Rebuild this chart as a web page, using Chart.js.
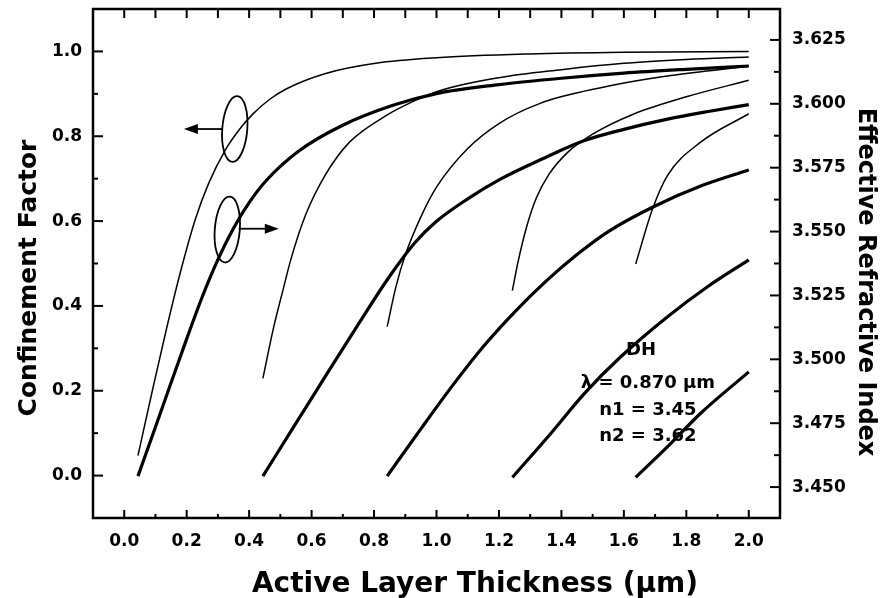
<!DOCTYPE html>
<html>
<head>
<meta charset="utf-8">
<script src="https://cdn.jsdelivr.net/npm/chart.js@4.4.1/dist/chart.umd.min.js"></script>
<style>
  html, body { margin: 0; padding: 0; background: #fff; }
  #wrap { width: 888px; height: 598px; }
</style>
</head>
<body>
<div id="wrap"><canvas id="chart" width="888" height="598"></canvas></div>
<script>
// ---- axis ticks ----
const xTicks = [0.0, 0.2, 0.4, 0.6, 0.8, 1.0, 1.2, 1.4, 1.6, 1.8, 2.0];
const cfTicks = [0.0, 0.2, 0.4, 0.6, 0.8, 1.0];
const neffTicks = [3.450, 3.475, 3.500, 3.525, 3.550, 3.575, 3.600, 3.625];

// ---- confinement factor (thin lines, left axis) ----
const cf0x = [0.044, 0.090, 0.135, 0.180, 0.228, 0.271, 0.324, 0.370, 0.410, 0.464, 0.520, 0.645, 0.805, 1.000, 1.300, 1.600, 2.000];
const cf0y = [0.047, 0.200, 0.345, 0.480, 0.605, 0.690, 0.768, 0.817, 0.851, 0.886, 0.912, 0.948, 0.972, 0.985, 0.994, 0.998, 1.000];
const cf1x = [0.444, 0.479, 0.511, 0.533, 0.580, 0.645, 0.720, 0.837, 0.922, 1.000, 1.200, 1.400, 1.600, 1.800, 2.000];
const cf1y = [0.229, 0.351, 0.445, 0.508, 0.613, 0.710, 0.785, 0.848, 0.881, 0.905, 0.938, 0.957, 0.972, 0.981, 0.987];
const cf2x = [0.842, 0.870, 0.900, 0.950, 1.000, 1.100, 1.200, 1.330, 1.530, 1.750, 2.000];
const cf2y = [0.351, 0.445, 0.520, 0.610, 0.680, 0.771, 0.830, 0.877, 0.915, 0.943, 0.965];
const cf3x = [1.243, 1.260, 1.290, 1.320, 1.360, 1.420, 1.500, 1.630, 1.800, 2.000];
const cf3y = [0.436, 0.500, 0.590, 0.655, 0.710, 0.762, 0.805, 0.852, 0.893, 0.932];
const cf4x = [1.638, 1.692, 1.740, 1.846, 2.000];
const cf4y = [0.499, 0.629, 0.708, 0.786, 0.853];

// ---- effective refractive index (thick lines, right axis) ----
const ne0x = [0.044, 0.100, 0.150, 0.200, 0.250, 0.300, 0.350, 0.400, 0.452, 0.559, 0.698, 0.858, 1.000, 1.200, 1.400, 1.600, 1.800, 2.000];
const ne0y = [3.4543, 3.4735, 3.4908, 3.5080, 3.5245, 3.5390, 3.5513, 3.5613, 3.5696, 3.5815, 3.5915, 3.5993, 3.6040, 3.6075, 3.6100, 3.6120, 3.6135, 3.6148];
const ne1x = [0.444, 0.550, 0.650, 0.750, 0.850, 0.930, 1.000, 1.100, 1.206, 1.340, 1.474, 1.600, 1.740, 1.870, 2.000];
const ne1y = [3.4543, 3.4750, 3.4945, 3.5138, 3.5325, 3.5455, 3.5540, 3.5628, 3.5706, 3.5785, 3.5856, 3.5900, 3.5940, 3.5970, 3.5997];
const ne2x = [0.842, 0.950, 1.050, 1.150, 1.250, 1.350, 1.450, 1.550, 1.700, 1.850, 2.000];
const ne2y = [3.4543, 3.4728, 3.4895, 3.5050, 3.5185, 3.5305, 3.5410, 3.5500, 3.5600, 3.5680, 3.5741];
const ne3x = [1.243, 1.366, 1.474, 1.590, 1.740, 1.868, 2.000];
const ne3y = [3.4538, 3.4710, 3.4867, 3.5010, 3.5167, 3.5284, 3.5389];
const ne4x = [1.638, 1.740, 1.846, 2.000];
const ne4y = [3.4538, 3.4658, 3.4789, 3.4951];

const FONT = '"DejaVu Sans", "Liberation Sans", sans-serif';

function pts(xs, ys) {
    return xs.map((x, i) => ({ x, y: ys[i] }));
}

function thin(xs, ys) {
    return { data: pts(xs, ys), yAxisID: "y", borderColor: "#000", borderWidth: 1.5,
             pointRadius: 0, cubicInterpolationMode: "monotone", fill: false };
}

function thick(xs, ys) {
    return { data: pts(xs, ys), yAxisID: "y2", borderColor: "#000", borderWidth: 3.2,
             pointRadius: 0, cubicInterpolationMode: "monotone", fill: false };
}

// frame, inward ticks, axis titles and the note / ellipse annotations
const framePlugin = {
    id: "frame",
    afterDatasetsDraw(chart) {
        const { ctx, chartArea: a, scales } = chart;
        const sx = scales.x, sy = scales.y, sy2 = scales.y2;
        ctx.save();
        ctx.strokeStyle = "#000";
        ctx.fillStyle = "#000";
        ctx.lineWidth = 2.5;
        ctx.strokeRect(a.left, a.top, a.right - a.left, a.bottom - a.top);

        ctx.lineWidth = 2;
        const line = (x1, y1, x2, y2) => {
            ctx.beginPath(); ctx.moveTo(x1, y1); ctx.lineTo(x2, y2); ctx.stroke();
        };

        // x ticks, bottom and top
        xTicks.forEach((v, i) => {
            const px = sx.getPixelForValue(v);
            line(px, a.bottom, px, a.bottom - 8);
            line(px, a.top, px, a.top + 9);
            if (i < xTicks.length - 1) {
                const mx = sx.getPixelForValue(v + 0.1);
                line(mx, a.bottom, mx, a.bottom - 4);
                line(mx, a.top, mx, a.top + 9);
            }
        });
        // left ticks
        cfTicks.forEach((v, i) => {
            const py = sy.getPixelForValue(v);
            line(a.left, py, a.left + 10, py);
            if (i < cfTicks.length - 1) {
                const my = sy.getPixelForValue(v + 0.1);
                line(a.left, my, a.left + 5, my);
            }
        });
        // right ticks
        neffTicks.forEach((v, i) => {
            const py = sy2.getPixelForValue(v);
            line(a.right, py, a.right - 10, py);
            if (i < neffTicks.length - 1) {
                const my = sy2.getPixelForValue(v + 0.0125);
                line(a.right, my, a.right - 6, my);
            }
        });

        // ellipses with arrows
        ctx.lineWidth = 1.8;
        const arrow = (x1, x2, y) => {
            const p1 = sx.getPixelForValue(x1), p2 = sx.getPixelForValue(x2), py = sy.getPixelForValue(y);
            const dir = Math.sign(p2 - p1);
            line(p1, py, p2 - dir * 10, py);
            ctx.beginPath();
            ctx.moveTo(p2, py);
            ctx.lineTo(p2 - dir * 14, py - 5);
            ctx.lineTo(p2 - dir * 14, py + 5);
            ctx.closePath();
            ctx.fill();
        };
        const ell = (x, y) => {
            ctx.beginPath();
            ctx.ellipse(sx.getPixelForValue(x), sy.getPixelForValue(y), 12.5, 33, 0.08, 0, Math.PI * 2);
            ctx.stroke();
        };
        ell(0.354, 0.817);
        arrow(0.314, 0.191, 0.817);
        ell(0.330, 0.580);
        arrow(0.367, 0.495, 0.582);

        // note
        ctx.font = "bold 18px " + FONT;
        ctx.textBaseline = "middle";
        ctx.textAlign = "center";
        ctx.fillText("DH", sx.getPixelForValue(1.655), sy.getPixelForValue(0.2955));
        ctx.textAlign = "left";
        ctx.fillText("\u03bb = 0.870 \u00b5m", sx.getPixelForValue(1.462), sy.getPixelForValue(0.2175));
        ctx.fillText("n1 = 3.45", sx.getPixelForValue(1.521), sy.getPixelForValue(0.154));
        ctx.fillText("n2 = 3.62", sx.getPixelForValue(1.521), sy.getPixelForValue(0.093));

        // axis titles
        ctx.textAlign = "center";
        ctx.textBaseline = "alphabetic";
        ctx.font = "bold 28px " + FONT;
        ctx.fillText("Active Layer Thickness (\u00b5m)", 475, 592);

        ctx.font = "bold 25px " + FONT;
        ctx.save();
        ctx.translate(36, 278);
        ctx.rotate(-Math.PI / 2);
        ctx.fillText("Confinement Factor", 0, 0);
        ctx.restore();

        ctx.font = "bold 24px " + FONT;
        ctx.save();
        ctx.translate(859, 282);
        ctx.rotate(Math.PI / 2);
        ctx.fillText("Effective Refractive Index", 0, 0);
        ctx.restore();
        ctx.restore();
    }
};

const tickFont = { family: FONT, size: 17, weight: "bold" };
const noPad = s => { s.paddingTop = 0; s.paddingBottom = 0; s.paddingLeft = 0; s.paddingRight = 0; };

new Chart(document.getElementById("chart"), {
    type: "line",
    data: {
        datasets: [
            thin(cf0x, cf0y), thin(cf1x, cf1y), thin(cf2x, cf2y), thin(cf3x, cf3y), thin(cf4x, cf4y),
            thick(ne0x, ne0y), thick(ne1x, ne1y), thick(ne2x, ne2y), thick(ne3x, ne3y), thick(ne4x, ne4y)
        ]
    },
    options: {
        responsive: false,
        devicePixelRatio: 1,
        animation: false,
        layout: { padding: { top: 9, left: 0, right: 0, bottom: 0 } },
        plugins: { legend: { display: false }, tooltip: { enabled: false } },
        scales: {
            x: {
                type: "linear", min: -0.1, max: 2.1,
                afterBuildTicks: s => { s.ticks = xTicks.map(v => ({ value: v })); },
                afterFit: s => { s.height = 80; noPad(s); },
                grid: { display: false, drawTicks: false }, border: { display: false },
                ticks: { font: tickFont, color: "#000", padding: 13, maxRotation: 0,
                         callback: v => v.toFixed(1) }
            },
            y: {
                type: "linear", position: "left", min: -0.1, max: 1.1,
                afterBuildTicks: s => { s.ticks = cfTicks.map(v => ({ value: v })); },
                afterFit: s => { s.width = 93; noPad(s); },
                grid: { display: false, drawTicks: false }, border: { display: false },
                ticks: { font: tickFont, color: "#000", padding: 11, callback: v => v.toFixed(1) }
            },
            y2: {
                type: "linear", position: "right", min: 3.4379, max: 3.6371,
                afterBuildTicks: s => { s.ticks = neffTicks.map(v => ({ value: v })); },
                afterFit: s => { s.width = 108; noPad(s); },
                grid: { display: false, drawTicks: false }, border: { display: false },
                ticks: { font: tickFont, color: "#000", padding: 12, callback: v => v.toFixed(3) }
            }
        }
    },
    plugins: [framePlugin]
});
</script>
</body>
</html>
